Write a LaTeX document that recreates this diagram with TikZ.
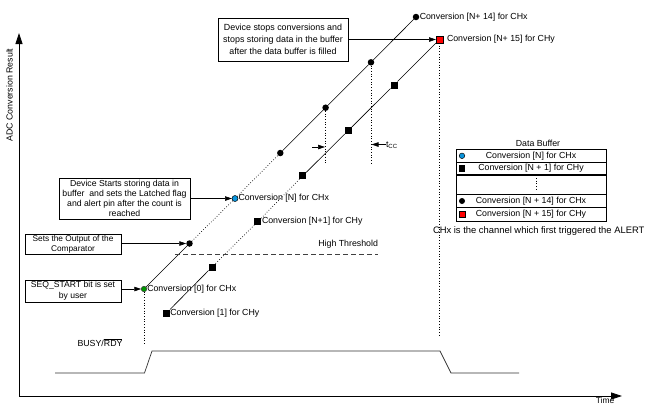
\documentclass[tikz,border=0pt]{standalone}
\usepackage{fontspec}
\setmainfont{Liberation Sans}
\usetikzlibrary{arrows.meta}
\begin{document}
\begin{tikzpicture}[x=1pt,y=-1pt,
 font=\fontsize{8.8}{10}\selectfont,
 every node/.style={inner sep=0pt, outer sep=0pt},
 dotb/.style={circle,fill=black,minimum size=6.5pt},
 sqb/.style={rectangle,fill=black,minimum size=7pt},
 note/.style={draw,align=center,line width=0.6pt},
 lbl/.style={anchor=west},
 seg/.style={line width=0.6pt},
 dotl/.style={line width=0.7pt,dotted},
 arr/.style={-{Triangle[length=7pt,width=4.5pt]}, line width=0.6pt},
 axarr/.style={-{Triangle[length=11pt,width=7pt]}, line width=0.8pt},
]
\useasboundingbox (0,0) rectangle (646,405);

% axes
\coordinate (org) at (19,396);
\coordinate (ytip) at (19,33);
\coordinate (xtip) at (622,396);
\draw[axarr] (org) -- (ytip);
\draw[axarr] (org) -- (xtip);
\node[rotate=90] (ylab) at (9.5,95) {ADC Conversion Result};
\node[anchor=north,font=\fontsize{8.4}{9}\selectfont] (tlab) at (605,397) {Time};

% CHx markers
\node[circle,draw=black!80,fill=green!60!black,minimum size=5.5pt,line width=0.5pt] (x0) at (144,289) {};
\node[dotb] (x1) at (189.5,243.5) {};
\node[circle,draw=black,fill=cyan!80!blue,minimum size=6pt,line width=0.5pt] (xn) at (235,198.5) {};
\node[dotb] (x2) at (280.3,153) {};
\node[dotb] (x3) at (325.6,107.7) {};
\node[dotb] (x4) at (371,62.3) {};
\node[dotb] (x14) at (416,17) {};

% CHy markers
\node[sqb] (y1) at (166.5,313) {};
\node[sqb] (y2) at (212,267) {};
\node[sqb] (yn) at (257.7,221.7) {};
\node[sqb] (y3) at (302.8,175.8) {};
\node[sqb] (y4) at (348.3,130.5) {};
\node[sqb] (y5) at (394,85) {};
\node[rectangle,draw=black,fill=red,minimum size=7pt,line width=0.5pt] (y15) at (439.5,39.5) {};

% CHx segments
\draw[seg] (x0) -- (x1);
\draw[dotl] (x1) -- (xn);
\draw[dotl] (xn) -- (x2);
\draw[seg] (x2) -- (x3);
\draw[seg] (x3) -- (x4);
\draw[seg] (x4) -- (x14);
% CHy segments
\draw[seg] (y1) -- (y2);
\draw[dotl] (y2) -- (yn);
\draw[dotl] (yn) -- (y3);
\draw[seg] (y3) -- (y4);
\draw[seg] (y4) -- (y5);
\draw[seg] (y5) -- (y15);

% labels
\node[lbl] (l0) at ([xshift=0.5pt]x0.east) {Conversion [0] for CHx};
\node[lbl] (l1) at ([xshift=0.3pt]y1.east) {Conversion [1] for CHy};
\node[lbl] (ln) at ([xshift=0.5pt]xn.east) {Conversion [N] for CHx};
\node[lbl] (ln1) at ([xshift=0.8pt]yn.east) {Conversion [N+1] for CHy};
\node[lbl] (l14) at ([xshift=0.5pt]x14.east) {Conversion [N+ 14] for CHx};
\node[lbl] (l15) at ([xshift=4pt]y15.east) {Conversion [N+ 15] for CHy};

% vertical dotted lines
\coordinate (v0) at (144,344);
\coordinate (v3) at (325.6,164);
\coordinate (v4) at (371,164);
\coordinate (v15) at (439.5,335);
\draw[dotl] (x0) -- (v0);
\draw[dotl] (x3) -- (v3);
\draw[dotl] (x4) -- (v4);
\draw[dotl] (y15) -- (v15);

% tcc arrows
\coordinate (ta1) at (312,147);
\coordinate (ta2) at (325,147);
\coordinate (tb1) at (386,144.5);
\coordinate (tb2) at (371.5,144.5);
\draw[arr] (ta1) -- (ta2);
\draw[arr] (tb1) -- (tb2);
\node[anchor=west] (tcc) at (386,145) {t\textsubscript{\fontsize{6}{6}\selectfont CC}};

% high threshold
\coordinate (ht1) at (175,254.5);
\coordinate (ht2) at (378,254.5);
\draw[line width=0.7pt,dash pattern=on 5pt off 3pt, black!75] (ht1) -- (ht2);
\node[anchor=east] (htl) at (378,244.5) {High Threshold};

% notes
\node[note,minimum width=130pt,minimum height=43pt,font=\fontsize{8.9}{11.7}\selectfont] (n1) at (283,39.5)
  {Device stops conversions and\\stops storing data in the buffer\\after the data buffer is filled};
\node[note,minimum width=131pt,minimum height=41pt,font=\fontsize{8.7}{10}\selectfont] (n2) at (124.5,198.8)
  {Device Starts storing data in\\buffer\ \ and sets the Latched flag\\and alert pin after the count is\\reached};
\node[note,minimum width=96pt,minimum height=19.5pt,font=\fontsize{8.3}{9.3}\selectfont] (n3) at (73,244.2)
  {Sets the Output of the\\Comparator};
\node[note,minimum width=96pt,minimum height=22pt,font=\fontsize{8.6}{11.5}\selectfont] (n4) at (73,290.8)
  {SEQ\_START bit is set\\by user};
\draw[arr] (n1.east |- y15) -- (y15.west);
\draw[arr] (n2.east |- xn) -- (xn.west);
\draw[arr] (n3.east |- x1) -- (x1.west);
\draw[arr] (n4.east |- x0) -- (x0.west);

% BUSY/RDY
\coordinate (b0) at (55,373);
\coordinate (b1) at (144.5,373);
\coordinate (b2) at (152,351);
\coordinate (b3) at (440,351);
\coordinate (b4) at (451,373);
\coordinate (b5) at (519,373);
\draw[line width=0.7pt, black!80] (b0) -- (b1) -- (b2) -- (b3) -- (b4) -- (b5);
\node (busy) at (100,343) {BUSY/$\overline{\mbox{RDY}}$};

% data buffer
\node (dbt) at (538,143) {Data Buffer};
\coordinate (t0) at (456,149.3);
\coordinate (t5) at (606,221);
\draw[line width=0.8pt] (t0) rectangle (t5);
\draw[line width=0.8pt] (456,162.3) -- (606,162.3);
\draw[line width=1.1pt] (456,175) -- (606,175);
\draw[line width=0.8pt] (456,194.3) -- (606,194.3);
\draw[line width=0.8pt] (456,207.7) -- (606,207.7);
\node[circle,draw=black,fill=cyan!80!blue,minimum size=5.5pt,line width=0.5pt] (ic1) at (462,155.8) {};
\node[sqb,minimum size=6.5pt] (ic2) at (462,168.7) {};
\node[dotb,minimum size=6pt] (ic3) at (462,201) {};
\node[rectangle,draw=black,fill=red,minimum size=6.5pt,line width=0.5pt] (ic4) at (462,214.4) {};
\node (r1) at (531,155.8) {Conversion [N] for CHx};
\node (r2) at (531,168.7) {Conversion [N + 1] for CHy};
\node (r3) at (531,201) {Conversion [N + 14] for CHx};
\node (r4) at (531,214.4) {Conversion [N + 15] for CHy};
\coordinate (rd1) at (536,178);
\coordinate (rd2) at (536,191);
\draw[dotl,line width=0.6pt] (rd1) -- (rd2);
\node[anchor=west,font=\fontsize{9.4}{10}\selectfont] (note) at (433,231) {CHx is the channel which first triggered the ALERT};
\end{tikzpicture}
\end{document}
